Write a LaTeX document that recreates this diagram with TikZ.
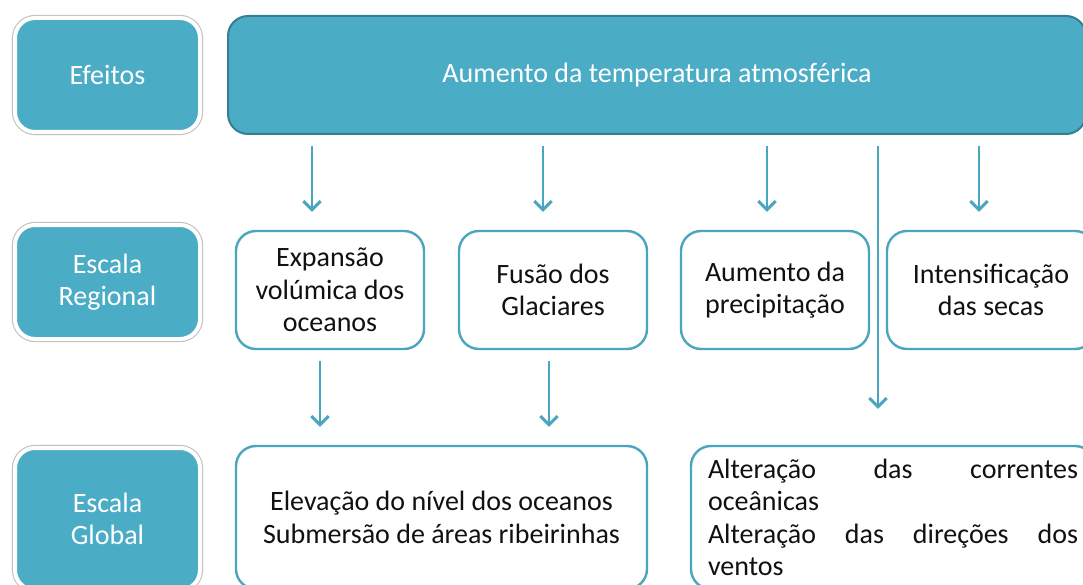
\documentclass[tikz,border=0pt]{standalone}
\usepackage{fontspec}
\setmainfont{Carlito}
\usetikzlibrary{arrows.meta}
\definecolor{tealfill}{HTML}{4BACC6}
\definecolor{tealdark}{HTML}{357F93}
\definecolor{tealline}{HTML}{4AA6BF}
\definecolor{txtc}{HTML}{111111}
\newcommand\fsz{\fontsize{21}{24.2}\selectfont}
\begin{document}
\begin{tikzpicture}[x=0.75pt,y=-0.75pt,
  labbox/.style={rectangle, rounded corners=15pt, fill=tealfill, draw=white, line width=3pt,
     preaction={draw=gray!50, line width=4.6pt}, text=white, align=center, font=\fsz,
     minimum width=138.75pt, minimum height=85.5pt, inner sep=0pt},
  topbox/.style={rectangle, rounded corners=15pt, fill=tealfill, draw=tealdark, line width=1.5pt,
     text=white, font=\fsz, minimum width=643.5pt, minimum height=88.5pt, inner sep=0pt},
  regbox/.style={rectangle, rounded corners=15pt, fill=white, draw=tealline, line width=1.8pt,
     text=txtc, align=center, font=\fsz, minimum width=141pt, minimum height=88.5pt, inner sep=0pt},
  arr/.style={draw=tealline, line width=2pt, -{Straight Barb[length=6.5pt,width=13pt,line width=2.2pt]}}
]
\useasboundingbox (0,0) rectangle (1083,585);
\fill[white] (0,0) rectangle (1083,585);
\clip (0,0) rectangle (1083,585);

% left labels
\node[labbox] (eff) at (107.5,75) {Efeitos};
\node[labbox] (reg) at (107.5,282) {Escala\\Regional};
\node[labbox, minimum height=106.5pt] (glo) at (107.5,519) {Escala\\Global};

% top
\node[topbox] (top) at (657,75) {Aumento da temperatura atmosférica};

% regional
\node[regbox] (exp) at (330,290) {Expansão\\volúmica dos\\oceanos};
\node[regbox] (fus) at (553,290) {Fusão dos\\Glaciares};
\node[regbox] (prec) at (775,290) {Aumento da\\precipitação};
\node[regbox, minimum width=156pt] (sec) at (991,290) {Intensificação\\das secas};

% global
\node[regbox, minimum width=308.25pt, minimum height=107.25pt] (g1) at (441.5,517.5)
  {Elevação do nível dos oceanos\\Submersão de áreas ribeirinhas};
\node[regbox, minimum width=303pt, minimum height=107.25pt, text width=277.5pt, align=left] (g2) at (893,517.5)
  {\makebox[277.5pt][s]{Alteração\hfill das\hfill correntes}\\
   oceânicas\\
   \makebox[277.5pt][s]{Alteração\hfill das\hfill direções\hfill dos}\\
   ventos};

% arrows
\draw[arr, shorten <=8.25pt, shorten >=13.5pt] (top.south -| 312,0) -- (exp.north -| 312,0);
\draw[arr, shorten <=8.25pt, shorten >=13.5pt] (top.south -| 543,0) -- (fus.north -| 543,0);
\draw[arr, shorten <=8.25pt, shorten >=13.5pt] (top.south -| 767,0) -- (prec.north -| 767,0);
\draw[arr, shorten <=8.25pt, shorten >=13.5pt] (top.south -| 979,0) -- (sec.north -| 979,0);
\draw[arr, shorten <=8.25pt, shorten >=27pt] (top.south -| 878,0) -- (g2.north -| 878,0);
\draw[arr, shorten <=8.25pt, shorten >=13.5pt] (exp.south -| 320,0) -- (g1.north -| 320,0);
\draw[arr, shorten <=8.25pt, shorten >=13.5pt] (fus.south -| 549,0) -- (g1.north -| 549,0);
\end{tikzpicture}
\end{document}
